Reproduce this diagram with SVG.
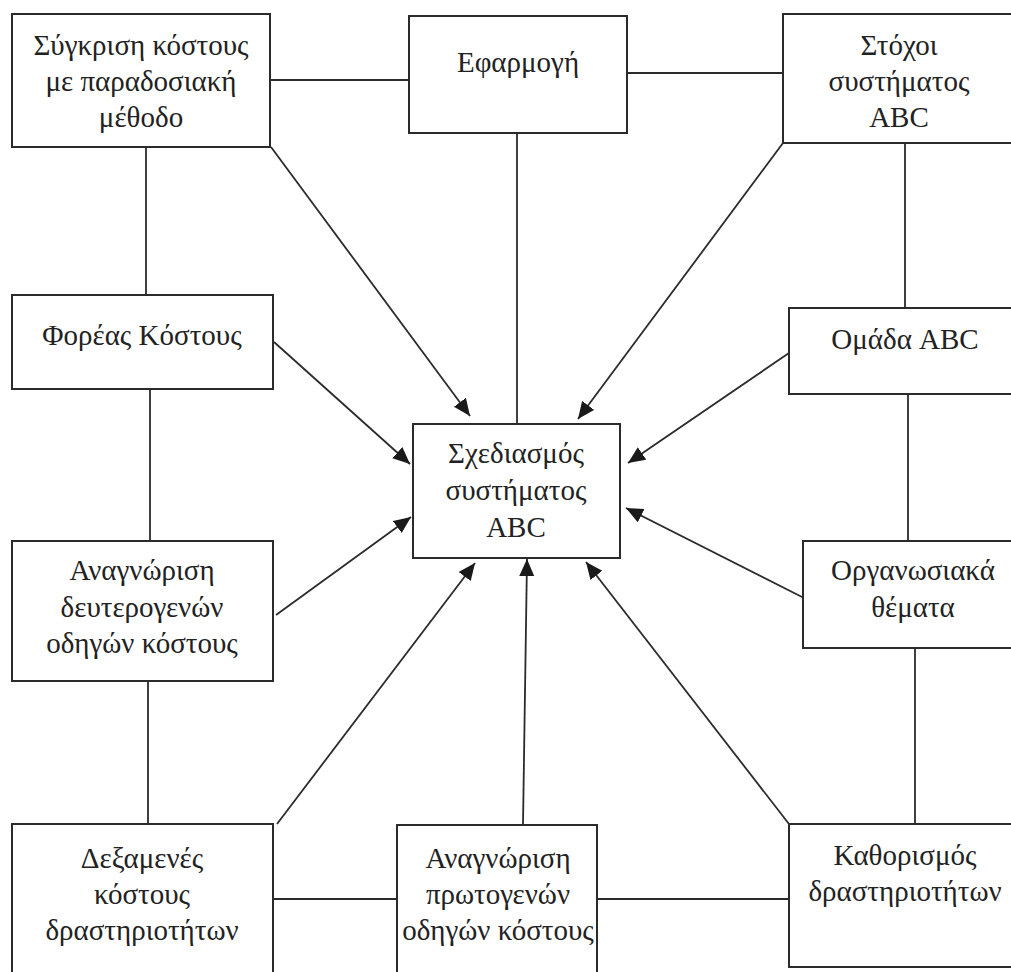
<svg xmlns="http://www.w3.org/2000/svg" width="1011" height="972" viewBox="0 0 1011 972">
  <defs>
    <style>
      .box { fill: #ffffff; stroke: #2b2b2b; stroke-width: 2; }
      .lbl { font-family: "Liberation Serif", "DejaVu Serif", serif; font-size: 29px; fill: #222222; text-anchor: middle; }
      .link { stroke: #2b2b2b; stroke-width: 1.8; fill: none; }
      .arrow { stroke: #2b2b2b; stroke-width: 1.8; fill: none; marker-end: url(#head); }
    </style>
    <marker id="head" markerUnits="userSpaceOnUse" markerWidth="18" markerHeight="16" refX="17" refY="7.5" orient="auto">
      <path d="M0,0 L17,7.5 L0,15 Z" fill="#1a1a1a"/>
    </marker>
  </defs>
  <rect width="1011" height="972" fill="#ffffff"/>

  <!-- connectors: plain links between neighbouring boxes, arrows into the centre -->
  <g id="connectors">
    <line class="link" x1="270" y1="80" x2="409" y2="80"/>
    <line class="link" x1="627" y1="73" x2="783" y2="73"/>
    <line class="link" x1="517" y1="133" x2="517" y2="424"/>
    <line class="link" x1="146" y1="147" x2="146" y2="295"/>
    <line class="link" x1="150" y1="389" x2="150" y2="541"/>
    <line class="link" x1="148" y1="681" x2="148" y2="824"/>
    <line class="link" x1="273" y1="899" x2="397" y2="899"/>
    <line class="link" x1="597" y1="899" x2="789" y2="899"/>
    <line class="link" x1="915" y1="648" x2="915" y2="824"/>
    <line class="link" x1="908" y1="394" x2="908" y2="541"/>
    <line class="link" x1="905" y1="143" x2="905" y2="308"/>

    <line class="arrow" x1="271" y1="147" x2="470" y2="416"/>
    <line class="arrow" x1="274" y1="342" x2="410" y2="464"/>
    <line class="arrow" x1="276" y1="615" x2="411" y2="517"/>
    <line class="arrow" x1="277" y1="824" x2="475" y2="563"/>
    <line class="arrow" x1="523" y1="825" x2="527" y2="559"/>
    <line class="arrow" x1="789" y1="824" x2="586" y2="562"/>
    <line class="arrow" x1="804" y1="598" x2="626" y2="508"/>
    <line class="arrow" x1="789" y1="353" x2="628" y2="463"/>
    <line class="arrow" x1="783" y1="143" x2="578" y2="419"/>
  </g>

  <g id="compare">
    <rect class="box" x="12" y="14" width="258" height="133"/>
    <text class="lbl" x="141" y="55">Σύγκριση κόστους</text>
    <text class="lbl" x="141" y="91">με παραδοσιακή</text>
    <text class="lbl" x="141" y="127">μέθοδο</text>
  </g>

  <g id="apply">
    <rect class="box" x="409" y="16" width="218" height="117"/>
    <text class="lbl" x="518" y="72">Εφαρμογή</text>
  </g>

  <g id="goals">
    <rect class="box" x="783" y="14" width="240" height="129"/>
    <text class="lbl" x="899" y="55">Στόχοι</text>
    <text class="lbl" x="899" y="91">συστήματος</text>
    <text class="lbl" x="899" y="127">ABC</text>
  </g>

  <g id="cost-object">
    <rect class="box" x="12" y="295" width="261" height="94"/>
    <text class="lbl" x="142" y="345">Φορέας Κόστους</text>
  </g>

  <g id="team">
    <rect class="box" x="789" y="308" width="240" height="86"/>
    <text class="lbl" x="905" y="349">Ομάδα ABC</text>
  </g>

  <g id="design">
    <rect class="box" x="413" y="424" width="207" height="134"/>
    <text class="lbl" x="516" y="463">Σχεδιασμός</text>
    <text class="lbl" x="516" y="500">συστήματος</text>
    <text class="lbl" x="516" y="537">ABC</text>
  </g>

  <g id="secondary-drivers">
    <rect class="box" x="12" y="541" width="261" height="140"/>
    <text class="lbl" x="142" y="580">Αναγνώριση</text>
    <text class="lbl" x="142" y="617">δευτερογενών</text>
    <text class="lbl" x="142" y="653">οδηγών κόστους</text>
  </g>

  <g id="organisation">
    <rect class="box" x="803" y="541" width="230" height="107"/>
    <text class="lbl" x="913" y="580">Οργανωσιακά</text>
    <text class="lbl" x="913" y="617">θέματα</text>
  </g>

  <g id="cost-pools">
    <rect class="box" x="12" y="824" width="261" height="160"/>
    <text class="lbl" x="142" y="868">Δεξαμενές</text>
    <text class="lbl" x="142" y="904">κόστους</text>
    <text class="lbl" x="142" y="940">δραστηριοτήτων</text>
  </g>

  <g id="primary-drivers">
    <rect class="box" x="397" y="825" width="200" height="160"/>
    <text class="lbl" x="498" y="868">Αναγνώριση</text>
    <text class="lbl" x="498" y="904">πρωτογενών</text>
    <text class="lbl" x="498" y="940">οδηγών κόστους</text>
  </g>

  <g id="activities">
    <rect class="box" x="789" y="824" width="240" height="143"/>
    <text class="lbl" x="905" y="865">Καθορισμός</text>
    <text class="lbl" x="905" y="901">δραστηριοτήτων</text>
  </g>
</svg>
